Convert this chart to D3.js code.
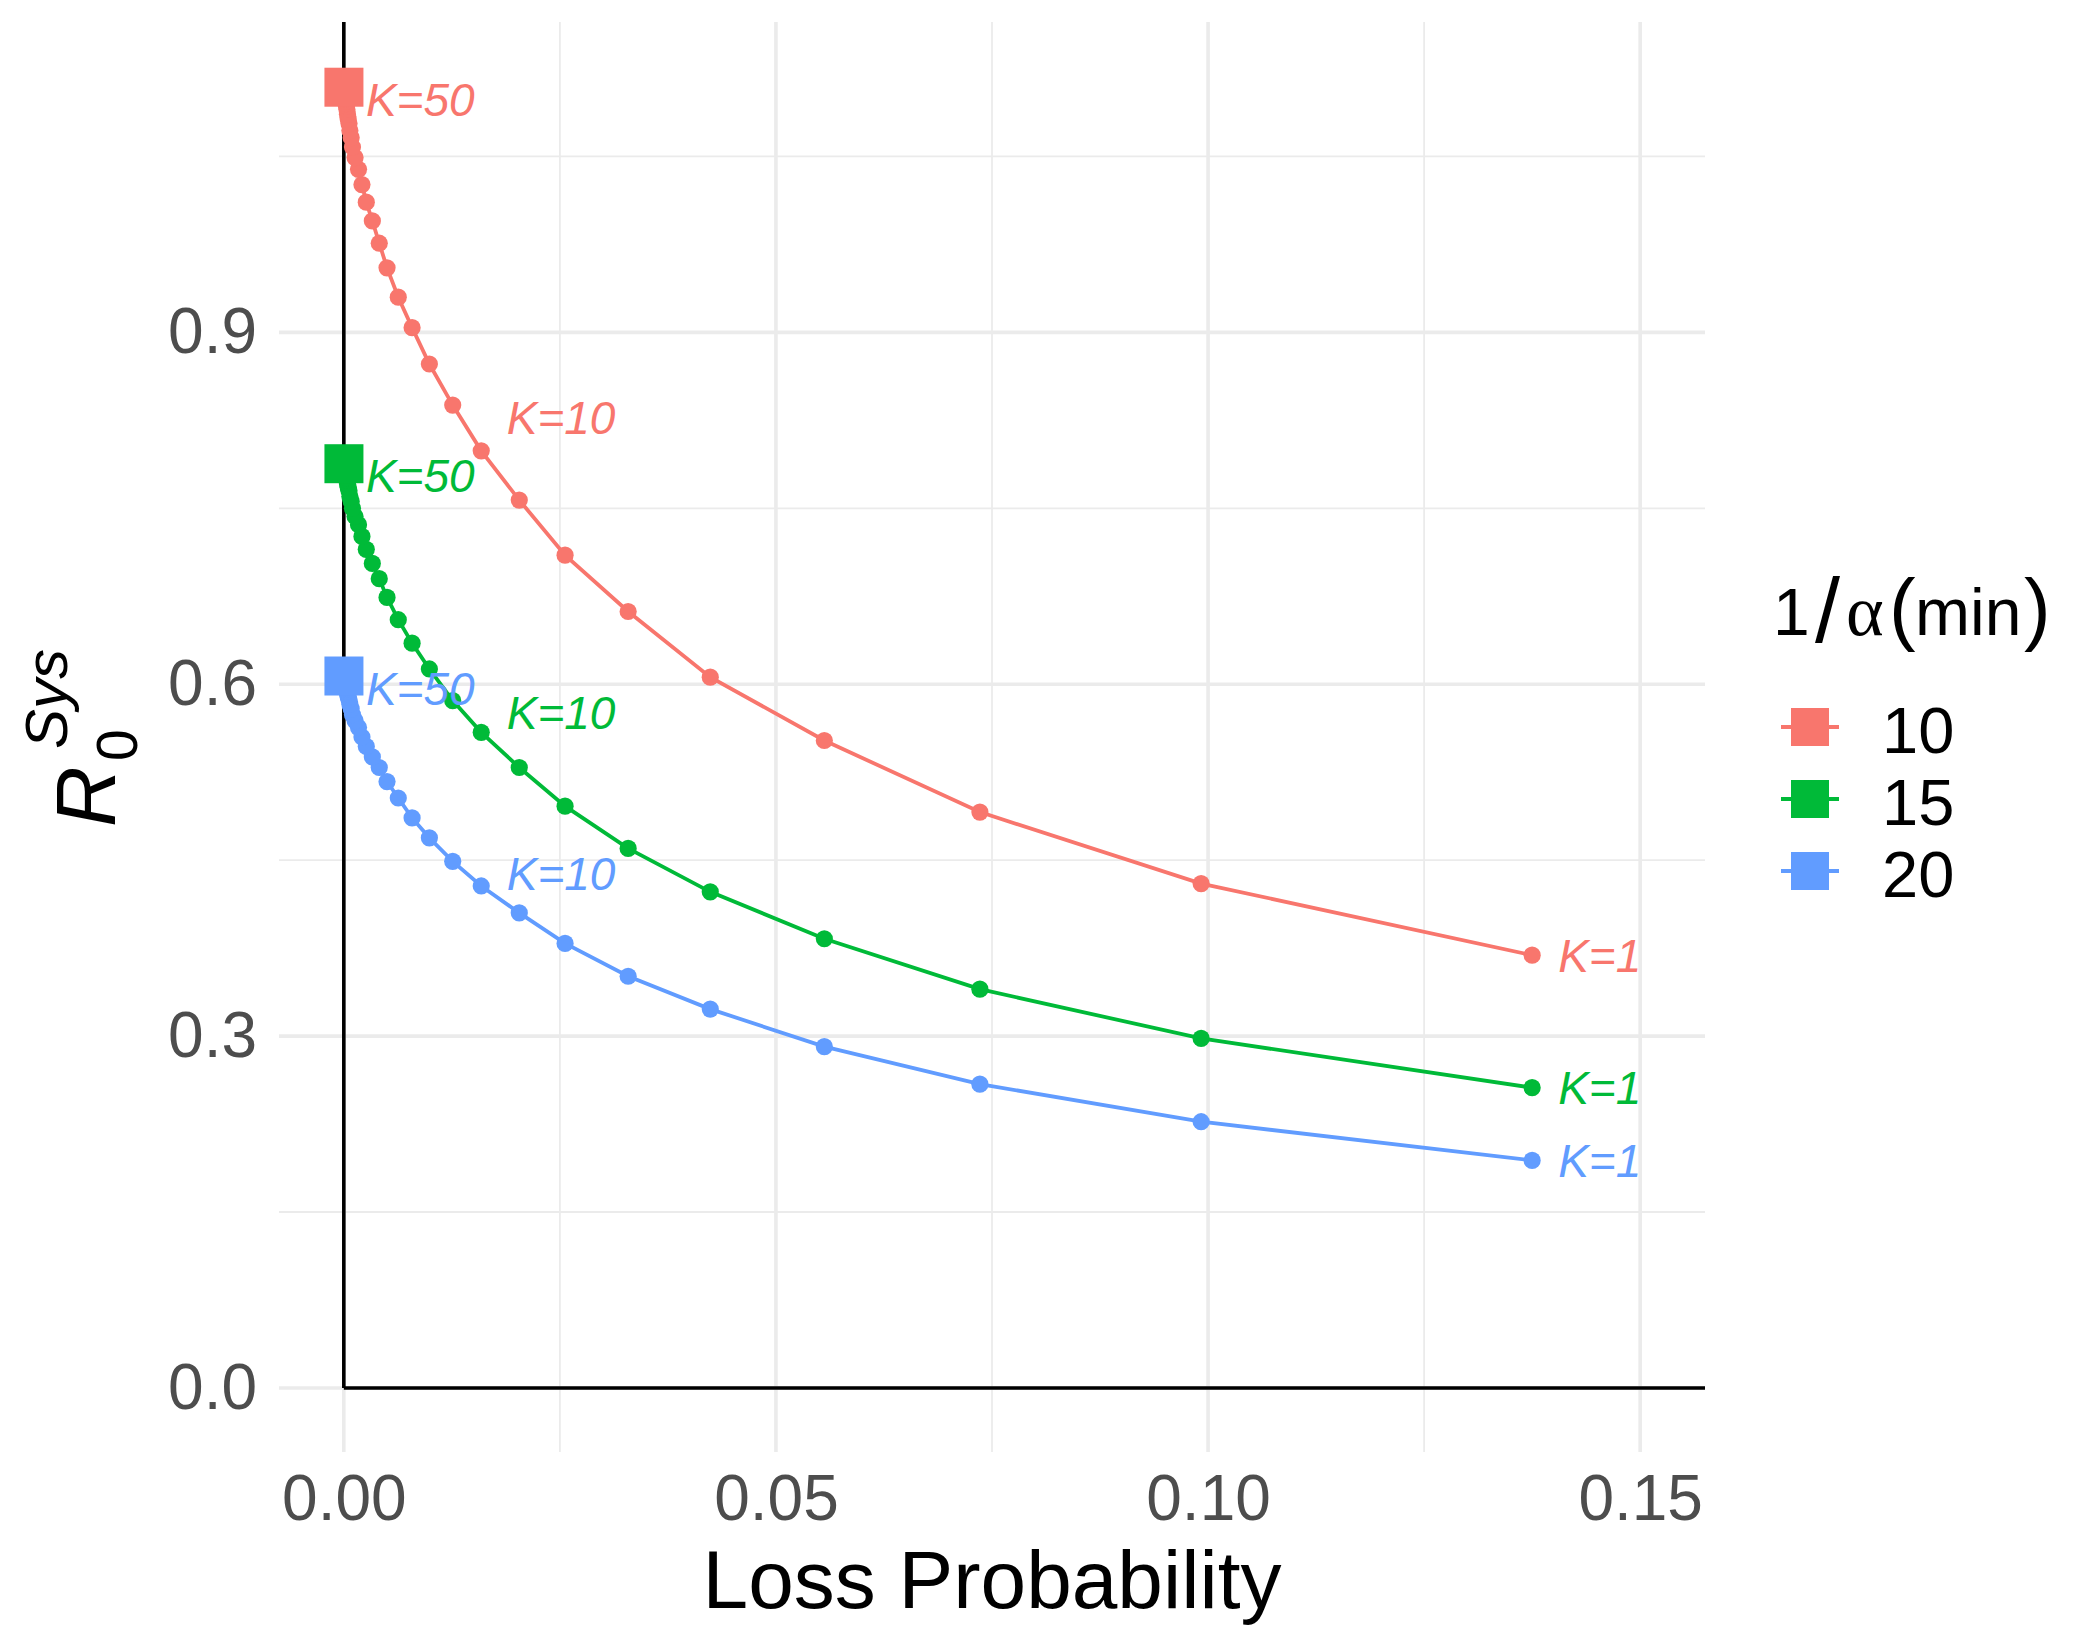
<!DOCTYPE html>
<html>
<head>
<meta charset="utf-8">
<script src="https://cdn.jsdelivr.net/npm/d3@7"></script>
<style>
  body { margin: 0; background: #fff; }
  text { font-family: "Liberation Sans", Arial, sans-serif; }
</style>
</head>
<body>
<div id="chart-area"></div>
<script>
const canvas_width = 2100;
const canvas_height = 1650;

// loss probability for K = 1..50 (shared by all three series)
const lossProb = [0.1375, 0.0992, 0.0736, 0.0556, 0.0424, 0.0329, 0.0256, 0.0203, 0.0159, 0.0126,
    0.0099, 0.0079, 0.0063, 0.0050, 0.0041, 0.0033, 0.0026, 0.0021, 0.0017, 0.0013,
    0.0010, 0.00085, 0.0007, 0.0006, 0.0005, 0.00042, 0.00036, 0.0003, 0.00026, 0.00022,
    0.00019, 0.00016, 0.00014, 0.00012, 0.0001, 0.00009, 0.00008, 0.00007, 0.00006, 0.00005,
    0.000045, 0.00004, 0.000035, 0.00003, 0.000027, 0.000024, 0.000021, 0.000018, 0.000016, 0.000014];

const r0_alpha10 = [0.369, 0.430, 0.491, 0.552, 0.606, 0.662, 0.710, 0.757, 0.799, 0.838,
    0.873, 0.904, 0.930, 0.955, 0.976, 0.995, 1.011, 1.026, 1.039, 1.049,
    1.058, 1.066, 1.072, 1.078, 1.082, 1.086, 1.090, 1.093, 1.095, 1.097,
    1.099, 1.100, 1.102, 1.103, 1.104, 1.105, 1.105, 1.106, 1.106, 1.107,
    1.107, 1.107, 1.108, 1.108, 1.108, 1.108, 1.109, 1.109, 1.109, 1.109];

const r0_alpha15 = [0.256, 0.298, 0.340, 0.383, 0.423, 0.460, 0.496, 0.529, 0.559, 0.586,
    0.613, 0.635, 0.655, 0.674, 0.690, 0.703, 0.715, 0.726, 0.736, 0.743,
    0.750, 0.756, 0.760, 0.765, 0.768, 0.771, 0.774, 0.776, 0.778, 0.779,
    0.780, 0.781, 0.782, 0.783, 0.784, 0.785, 0.785, 0.786, 0.786, 0.786,
    0.787, 0.787, 0.787, 0.787, 0.788, 0.788, 0.788, 0.788, 0.788, 0.788];

const r0_alpha20 = [0.194, 0.227, 0.259, 0.291, 0.323, 0.351, 0.379, 0.405, 0.428, 0.449,
    0.469, 0.486, 0.503, 0.517, 0.529, 0.538, 0.547, 0.555, 0.563, 0.569,
    0.574, 0.579, 0.583, 0.587, 0.589, 0.592, 0.594, 0.596, 0.597, 0.599,
    0.600, 0.601, 0.602, 0.603, 0.603, 0.604, 0.604, 0.605, 0.605, 0.605,
    0.606, 0.606, 0.606, 0.606, 0.606, 0.607, 0.607, 0.607, 0.607, 0.607];

const alphaLevels = ['10', '15', '20'];
const colors = ['#F8766D', '#00BA38', '#619CFF'];
const kLabelled = [1, 10, 50];

const xTicks = [0, 0.05, 0.10, 0.15];
const xMinor = [0.025, 0.075, 0.125];
const yTicks = [0, 0.3, 0.6, 0.9];
const yMinor = [0.15, 0.45, 0.75, 1.05];

const x_axis_label = 'Loss Probability';

const panel = { left: 279, right: 1705, top: 22, bottom: 1452 };

let series = [r0_alpha10, r0_alpha15, r0_alpha20].map((vals, i) => {
    return {
        level: alphaLevels[i],
        color: colors[i],
        points: vals.map((v, j) => ({ k: j + 1, x: lossProb[j], y: v }))
    };
});

let canvas = d3.select('#chart-area').append('svg')
    .attr('width', canvas_width)
    .attr('height', canvas_height);

let x = d3.scaleLinear()
    .domain([-0.0075, 0.1575])
    .range([panel.left, panel.right]);

let y = d3.scaleLinear()
    .domain([-0.0546, 1.1646])
    .range([panel.bottom, panel.top]);

// grid
let grid = canvas.append('g').attr('class', 'grid');
grid.selectAll('.xminor').data(xMinor).enter().append('line')
    .attr('x1', (d) => x(d)).attr('x2', (d) => x(d))
    .attr('y1', panel.top).attr('y2', panel.bottom)
    .attr('stroke', '#EBEBEB').attr('stroke-width', 1.8);
grid.selectAll('.yminor').data(yMinor).enter().append('line')
    .attr('y1', (d) => y(d)).attr('y2', (d) => y(d))
    .attr('x1', panel.left).attr('x2', panel.right)
    .attr('stroke', '#EBEBEB').attr('stroke-width', 1.8);
grid.selectAll('.xmajor').data(xTicks).enter().append('line')
    .attr('x1', (d) => x(d)).attr('x2', (d) => x(d))
    .attr('y1', panel.top).attr('y2', panel.bottom)
    .attr('stroke', '#EBEBEB').attr('stroke-width', 3.6);
grid.selectAll('.ymajor').data(yTicks).enter().append('line')
    .attr('y1', (d) => y(d)).attr('y2', (d) => y(d))
    .attr('x1', panel.left).attr('x2', panel.right)
    .attr('stroke', '#EBEBEB').attr('stroke-width', 3.6);

// zero lines
canvas.append('line')
    .attr('x1', x(0)).attr('x2', x(0))
    .attr('y1', panel.top).attr('y2', y(0))
    .attr('stroke', '#000').attr('stroke-width', 3.6);
canvas.append('line')
    .attr('x1', x(0)).attr('x2', panel.right)
    .attr('y1', y(0)).attr('y2', y(0))
    .attr('stroke', '#000').attr('stroke-width', 3.6);

// axes
let bottomAxis = d3.axisBottom(x)
    .tickValues(xTicks)
    .tickSize(0)
    .tickPadding(23)
    .tickFormat(d3.format('.2f'));
let gx = canvas.append('g')
    .attr('class', 'bottom axis')
    .attr('transform', `translate(0, ${panel.bottom})`)
    .call(bottomAxis);
gx.select('.domain').remove();
gx.selectAll('text')
    .attr('font-size', '64px')
    .attr('fill', '#4D4D4D')
    .style('font-family', '"Liberation Sans", Arial, sans-serif');

let leftAxis = d3.axisLeft(y)
    .tickValues(yTicks)
    .tickSize(0)
    .tickPadding(22)
    .tickFormat(d3.format('.1f'));
let gy = canvas.append('g')
    .attr('class', 'left axis')
    .attr('transform', `translate(${panel.left}, 0)`)
    .call(leftAxis);
gy.select('.domain').remove();
gy.selectAll('text')
    .attr('font-size', '64px')
    .attr('fill', '#4D4D4D')
    .style('font-family', '"Liberation Sans", Arial, sans-serif');

// lines
let line = d3.line()
    .x((d) => x(d.x))
    .y((d) => y(d.y));

canvas.append('g').selectAll('path').data(series).enter().append('path')
    .attr('d', (s) => line(s.points))
    .attr('fill', 'none')
    .attr('stroke', (s) => s.color)
    .attr('stroke-width', 3.8);

// points
series.forEach((s) => {
    let g = canvas.append('g');
    g.selectAll('circle').data(s.points.filter((p) => p.k < 50)).enter().append('circle')
        .attr('cx', (d) => x(d.x))
        .attr('cy', (d) => y(d.y))
        .attr('r', 8.6)
        .attr('fill', s.color);
    g.selectAll('rect').data(s.points.filter((p) => p.k === 50)).enter().append('rect')
        .attr('x', (d) => x(d.x) - 19.5)
        .attr('y', (d) => y(d.y) - 19.5)
        .attr('width', 39)
        .attr('height', 39)
        .attr('fill', s.color);
});

// K labels
const labelOffset = { 1: [26, 0], 10: [54, 12], 50: [22, 12] };
series.forEach((s) => {
    canvas.append('g').selectAll('text')
        .data(s.points.filter((p) => kLabelled.includes(p.k)))
        .enter().append('text')
        .attr('x', (d) => x(d.x) + labelOffset[d.k][0])
        .attr('y', (d) => y(d.y) + labelOffset[d.k][1])
        .attr('dy', '0.36em')
        .attr('font-size', '46px')
        .attr('font-style', 'italic')
        .attr('fill', s.color)
        .text((d) => `K=${d.k}`);
});

// axis titles
canvas.append('text')
    .attr('class', 'x axis-label')
    .attr('x', (panel.left + panel.right) / 2)
    .attr('y', 1608)
    .attr('font-size', '82px')
    .attr('text-anchor', 'middle')
    .attr('fill', '#000')
    .text(x_axis_label);

let yl = canvas.append('text')
    .attr('class', 'y axis-label')
    .attr('transform', 'translate(115, 827) rotate(-90)')
    .attr('fill', '#000');
yl.append('tspan').attr('x', 0).attr('y', 0)
    .attr('font-size', '84px').attr('font-style', 'italic').text('R');
yl.append('tspan').attr('x', 66).attr('y', 22)
    .attr('font-size', '57px').text('0');
yl.append('tspan').attr('x', 78).attr('y', -48)
    .attr('font-size', '60px').attr('font-style', 'italic').text('Sys');

// legend
let legend = canvas.append('g').attr('class', 'legend');
let lt = legend.append('text').attr('y', 635).attr('fill', '#000');
lt.append('tspan').attr('x', 1773).attr('font-size', '66px').text('1');
lt.append('tspan').attr('x', 1815).attr('y', 642).attr('font-size', '90px').text('/');
lt.append('tspan').attr('x', 1846).attr('y', 635).attr('font-size', '72px')
    .style('font-family', '"Liberation Serif", "DejaVu Serif", serif').text('α');
lt.append('tspan').attr('x', 1889).attr('font-size', '80px').text('(');
lt.append('tspan').attr('x', 1915).attr('font-size', '66px').text('min');
lt.append('tspan').attr('x', 2024).attr('font-size', '80px').text(')');

let keys = legend.selectAll('.key').data(series).enter().append('g')
    .attr('class', 'key')
    .attr('transform', (s, i) => `translate(1810, ${727 + i * 72})`);
keys.append('line')
    .attr('x1', -29).attr('x2', 29)
    .attr('stroke', (s) => s.color).attr('stroke-width', 4);
keys.append('rect')
    .attr('x', -19).attr('y', -19)
    .attr('width', 38).attr('height', 38)
    .attr('fill', (s) => s.color);
keys.append('text')
    .attr('x', 72)
    .attr('y', 3)
    .attr('dy', '0.36em')
    .attr('font-size', '65px')
    .attr('fill', '#000')
    .text((s) => s.level);
</script>
</body>
</html>
